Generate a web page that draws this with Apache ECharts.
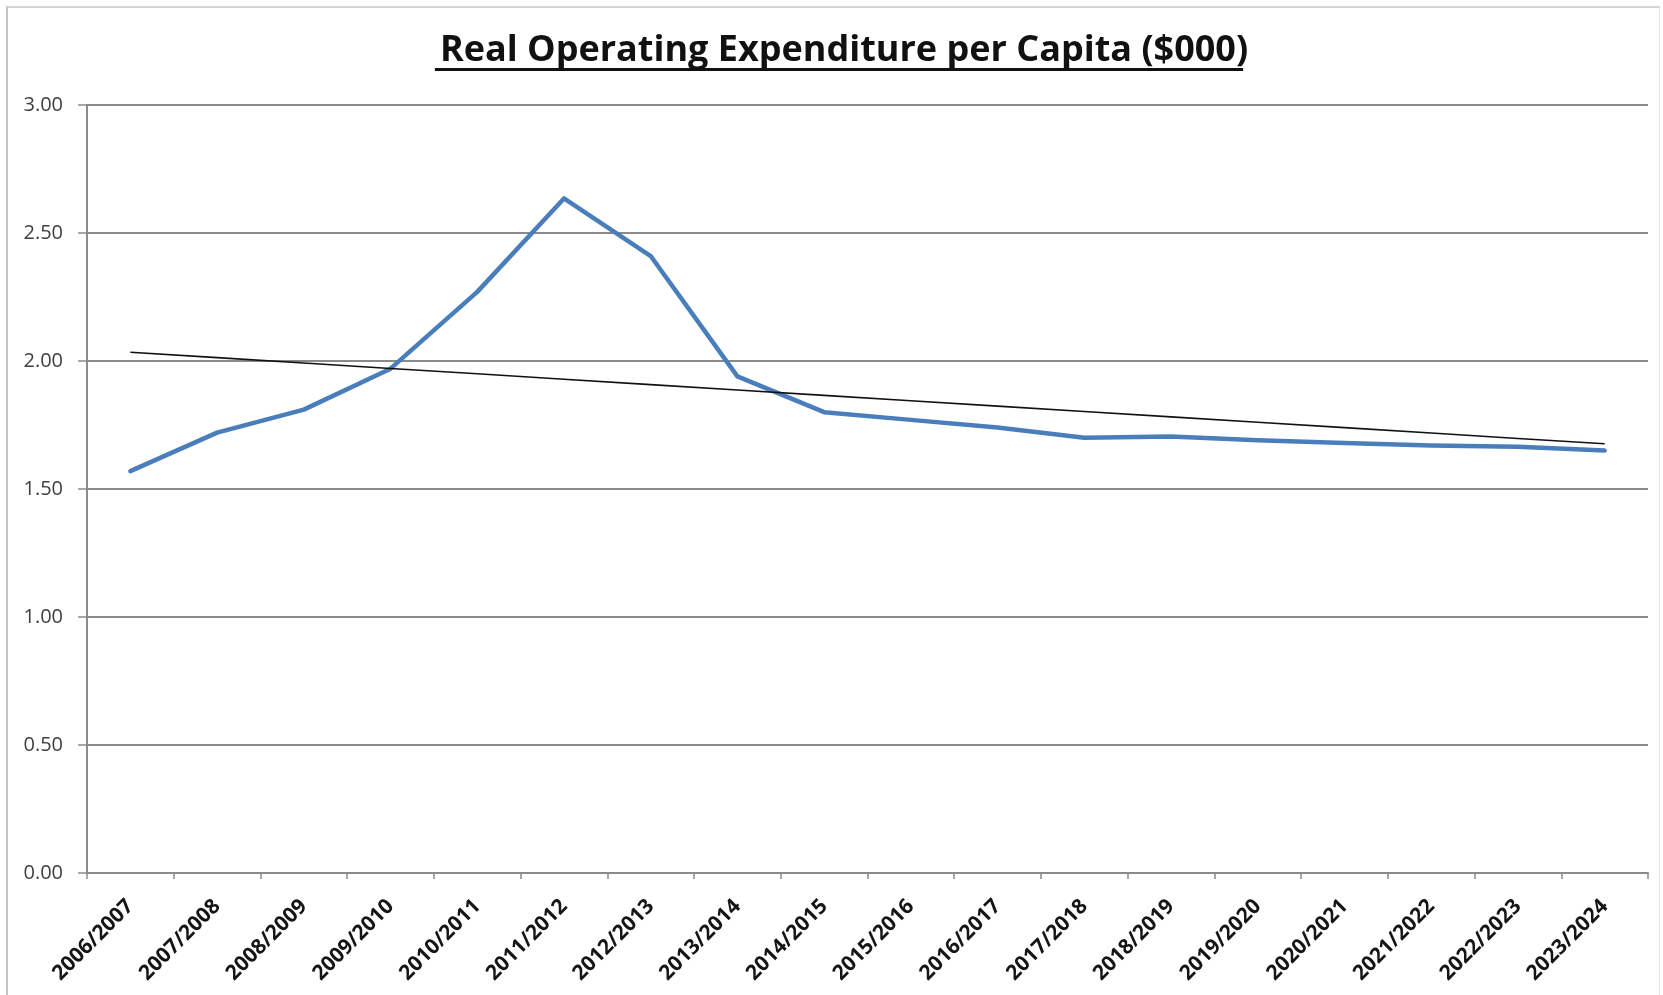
<!DOCTYPE html>
<html>
<head>
<meta charset="utf-8">
<title>Real Operating Expenditure per Capita ($000)</title>
<script src="https://cdn.jsdelivr.net/npm/echarts@6/dist/echarts.min.js"></script>
<style>
  html, body { margin: 0; padding: 0; background: #ffffff; }
  #frame {
    position: absolute; left: 6px; top: 6px; width: 1654px; height: 995px;
    border-left: 2px solid #c4c4c4; border-top: 2px solid #d4d4d4; border-right: 1px solid #e4e4e4;
    box-sizing: border-box;
  }
  #chart { position: absolute; left: 0; top: 0; width: 1663px; height: 995px; }
</style>
</head>
<body>
<div id="frame"></div>
<div id="chart"></div>
<script>
// Financial years shown along the x axis
const years = [
  '2006/2007', '2007/2008', '2008/2009', '2009/2010', '2010/2011', '2011/2012',
  '2012/2013', '2013/2014', '2014/2015', '2015/2016', '2016/2017', '2017/2018',
  '2018/2019', '2019/2020', '2020/2021', '2021/2022', '2022/2023', '2023/2024'
];

// Real operating expenditure per capita, $000
const expenditure = [
  1.57, 1.72, 1.81, 1.97, 2.27, 2.635, 2.41, 1.94, 1.80,
  1.77, 1.74, 1.70, 1.705, 1.69, 1.68, 1.67, 1.665, 1.65
];

// Value axis ticks
const yTicks = [0, 0.5, 1.0, 1.5, 2.0, 2.5, 3.0];

const chartTitle = 'Real Operating Expenditure per Capita ($000)';

// Least-squares linear trend through the expenditure series
function linearTrend(values) {
  const n = values.length;
  let sx = 0, sy = 0;
  values.forEach((v, i) => { sx += i; sy += v; });
  const mx = sx / n, my = sy / n;
  let sxy = 0, sxx = 0;
  values.forEach((v, i) => { sxy += (i - mx) * (v - my); sxx += (i - mx) * (i - mx); });
  const slope = sxy / sxx;
  const intercept = my - slope * mx;
  return values.map((_, i) => intercept + slope * i);
}
const trend = linearTrend(expenditure);

const titleSize = 36;
const chart = echarts.init(document.getElementById('chart'), null, { renderer: 'canvas' });

// Width of the title, used to place its underline
const ctx = document.createElement('canvas').getContext('2d');
ctx.font = 'bold ' + titleSize + 'px "Open Sans"';
const titleWidth = ctx.measureText(chartTitle).width;
const titleCenterX = 839;

chart.setOption({
  backgroundColor: 'transparent',
  animation: false,
  title: {
    text: chartTitle,
    left: titleCenterX,
    top: 28,
    textAlign: 'center',
    textStyle: { fontFamily: 'Open Sans', fontWeight: 'bold', fontSize: titleSize, color: '#111111' }
  },
  graphic: [{
    type: 'rect',
    shape: { x: titleCenterX - titleWidth / 2, y: 68, width: titleWidth, height: 3 },
    style: { fill: '#111111' },
    silent: true
  }],
  grid: { left: 87, right: 15, top: 105, bottom: 122, containLabel: false },
  xAxis: {
    type: 'category',
    data: years,
    boundaryGap: true,
    axisLine: { show: true, lineStyle: { color: '#8a8a8a', width: 2 } },
    axisTick: { show: true, alignWithLabel: false, length: 6, lineStyle: { color: '#8a8a8a', width: 1.5 } },
    axisLabel: {
      interval: 0,
      rotate: 45,
      margin: 30,
      fontFamily: 'Open Sans',
      fontWeight: 'bold',
      fontSize: 21,
      color: '#151515'
    },
    splitLine: { show: false }
  },
  yAxis: {
    type: 'value',
    min: yTicks[0],
    max: yTicks[yTicks.length - 1],
    interval: 0.5,
    axisLine: { show: true, lineStyle: { color: '#8a8a8a', width: 2 } },
    axisTick: { show: true, length: 9, lineStyle: { color: '#8a8a8a', width: 1.5 } },
    axisLabel: {
      margin: 24,
      fontFamily: 'Open Sans',
      fontSize: 20,
      color: '#404040',
      formatter: v => v.toFixed(2)
    },
    splitLine: { show: true, lineStyle: { color: '#8a8a8a', width: 2 } }
  },
  series: [
    {
      name: 'Real Operating Expenditure per Capita',
      type: 'line',
      data: expenditure,
      symbol: 'none',
      lineStyle: { color: '#4a7ebb', width: 4.5, join: 'round', cap: 'round' },
      z: 3
    },
    {
      name: 'Linear trend',
      type: 'line',
      data: trend,
      symbol: 'none',
      lineStyle: { color: '#111111', width: 1.6 },
      z: 4
    }
  ]
});
</script>
</body>
</html>
